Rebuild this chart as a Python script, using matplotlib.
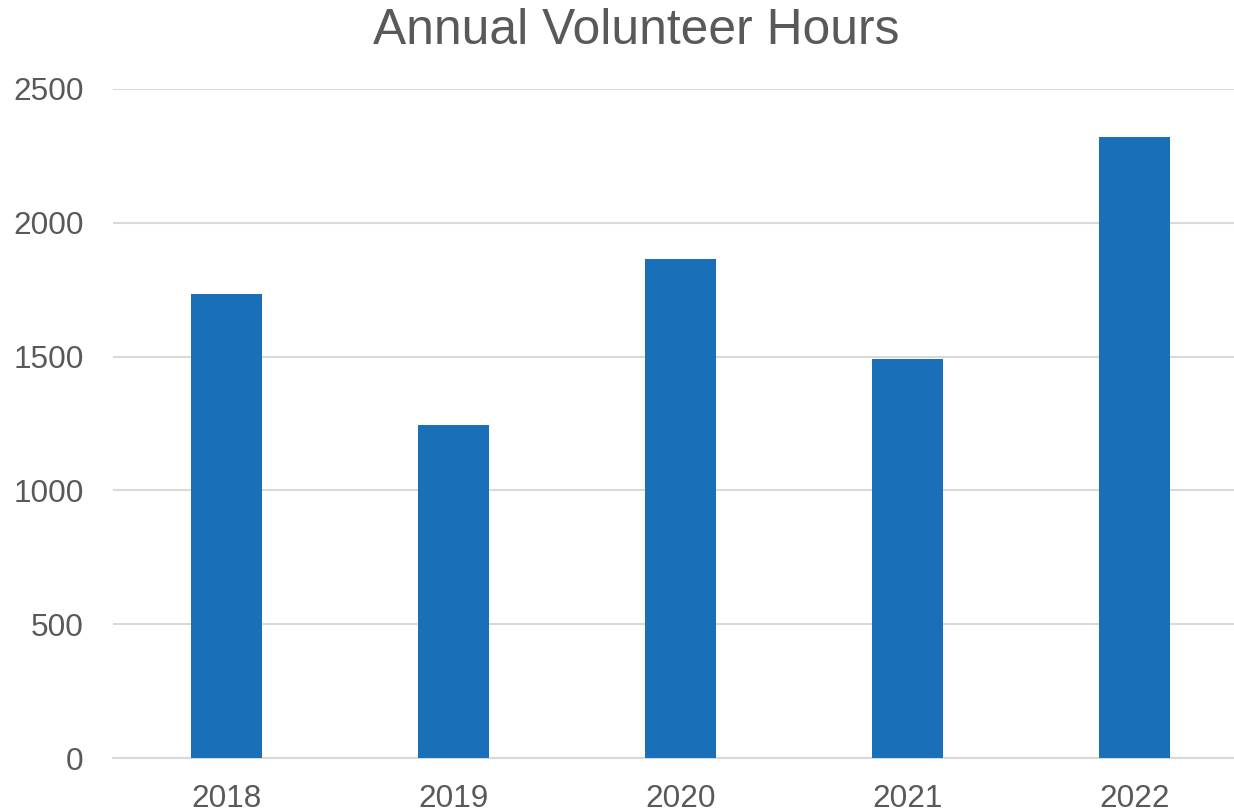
import matplotlib.pyplot as plt

years = ['2018', '2019', '2020', '2021', '2022']
hours = [1735, 1245, 1865, 1490, 2320]
yticks = [0, 500, 1000, 1500, 2000, 2500]

plt.rcParams['font.family'] = ['Liberation Sans', 'DejaVu Sans']
text_color = '#595959'

fig = plt.figure(figsize=(12.34, 8.11), dpi=100)
ax = fig.add_axes([113 / 1234, 53 / 811, 1135 / 1234, 669 / 811])

ax.bar(range(len(years)), hours, width=0.317, color='#1a70b8', zorder=3)

ax.set_xlim(-0.5, len(years) - 0.5)
ax.set_ylim(0, 2500)
ax.set_yticks(yticks)
ax.set_xticks(range(len(years)))
ax.set_xticklabels(years)
ax.yaxis.grid(True, color='#d9d9d9', linewidth=1.5, zorder=0)
ax.tick_params(axis='both', length=0, labelsize=22.7, colors=text_color)
ax.tick_params(axis='y', pad=21)
ax.tick_params(axis='x', pad=19)
for s in ['top', 'right', 'left']:
    ax.spines[s].set_visible(False)
ax.spines['bottom'].set_color('#d9d9d9')
ax.spines['bottom'].set_linewidth(1.5)

fig.text(636 / 1234, 1 - 44 / 811, 'Annual Volunteer Hours', ha='center', va='baseline',
         fontsize=35.8, color=text_color)

fig.savefig('out.png', dpi=100)
